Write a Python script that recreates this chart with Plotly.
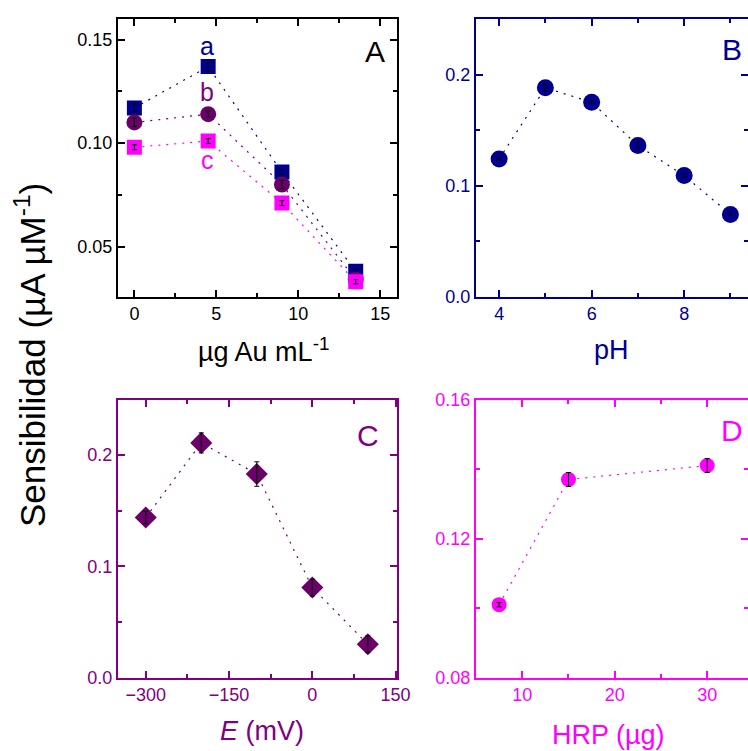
import plotly.graph_objects as go

# ---------------- data ----------------
x_au = [0, 4.5, 9, 13.5]
sens_a = [0.117, 0.137, 0.086, 0.038]
sens_b = [0.110, 0.114, 0.080, 0.034]
sens_c = [0.098, 0.101, 0.071, 0.033]
err_a = [0.002, 0.002, 0.0012, 0.001]
err_b = [0.002, 0.0015, 0.002, 0.001]
err_c = [0.0012, 0.0012, 0.0012, 0.001]

ph = [4, 5, 6, 7, 8, 9]
sens_ph = [0.124, 0.188, 0.175, 0.136, 0.109, 0.074]
err_ph = [0.001, 0.003, 0.001, 0.003, 0.0015, 0.001]

e_mv = [-300, -200, -100, 0, 100]
sens_e = [0.144, 0.211, 0.183, 0.081, 0.030]
err_e = [0.0055, 0.009, 0.011, 0.0075, 0.0075]

hrp = [7.5, 15, 30]
sens_hrp = [0.101, 0.137, 0.141]
err_hrp = [0.0006, 0.002, 0.002]

# ---------------- style ----------------
W, H = 748, 751
FONT = "Liberation Sans, Arial, sans-serif"
BLACK = "#000000"
NAVY = "#000090"
PURPLE = "#800080"
PURPLE_M = "#6B006B"
MAGENTA = "#FF00FF"
DOT = "2px,6px"


def px(x):
    return x / W


def py(y):
    return 1 - y / H


dom_x_left = [px(118), px(396.7)]
dom_x_right = [px(476), 1.0]
dom_y_top = [py(296.6), py(19)]
dom_y_bot = [py(677.7), py(399.5)]


def axis(domain, rng, dtick, mdtick, color, anchor, fmt=None):
    d = dict(
        domain=domain, range=rng, dtick=dtick, tick0=0, automargin=False,
        ticks="inside", ticklen=7, tickwidth=2, tickcolor=color,
        showline=True, linecolor=color, linewidth=2, mirror="ticks",
        showgrid=False, zeroline=False, anchor=anchor,
        tickfont=dict(family=FONT, size=18, color=color),
        minor=dict(ticks="inside", ticklen=4, tickwidth=2, tickcolor=color,
                   dtick=mdtick, tick0=0, showgrid=False),
    )
    if fmt:
        d["tickformat"] = fmt
    return d


fig = go.Figure()


def add_series(x, y, err, color, symbol, size, xa, ya):
    fig.add_trace(go.Scatter(
        x=x, y=y, mode="lines+markers", xaxis=xa, yaxis=ya,
        line=dict(color=color, width=1.2, dash=DOT),
        marker=dict(color=color, symbol=symbol, size=size, line=dict(width=0)),
        showlegend=False, hoverinfo="skip"))
    fig.add_trace(go.Scatter(
        x=x, y=y, mode="markers", xaxis=xa, yaxis=ya,
        marker=dict(size=1, opacity=0),
        error_y=dict(type="data", array=err, color=BLACK, thickness=1, width=2.5),
        showlegend=False, hoverinfo="skip"))


add_series(x_au, sens_a, err_a, NAVY, "square", 15, "x", "y")
add_series(x_au, sens_b, err_b, PURPLE_M, "circle", 16, "x", "y")
add_series(x_au, sens_c, err_c, MAGENTA, "square", 15, "x", "y")
add_series(ph, sens_ph, err_ph, NAVY, "circle", 17, "x2", "y2")
add_series(e_mv, sens_e, err_e, PURPLE_M, "diamond", 17, "x3", "y3")
add_series(hrp, sens_hrp, err_hrp, MAGENTA, "circle", 15, "x4", "y4")

annotations = []


def ann(text, x, y, color, size, **kw):
    d = dict(text=text, x=px(x), y=py(y), xref="paper", yref="paper",
             showarrow=False, xanchor="center", yanchor="middle",
             font=dict(family=FONT, size=size, color=color))
    d.update(kw)
    annotations.append(d)


# panel letters
ann("A", 375.5, 51, BLACK, 30)
ann("B", 732, 50, NAVY, 30)
ann("C", 368, 435, PURPLE, 30)
ann("D", 731.5, 430, MAGENTA, 30)
# series labels
ann("a", 207, 46, NAVY, 25)
ann("b", 207, 92, PURPLE, 25)
ann("c", 207, 160, MAGENTA, 25)
# axis titles
ann("µg Au mL<sup>-1</sup>", 263, 350, BLACK, 27)
ann("pH", 611, 350, NAVY, 27)
ann("<i>E</i> (mV)", 262, 731, PURPLE, 27)
ann("HRP (µg)", 608, 735, MAGENTA, 27)
ann("Sensibilidad (µA µM<sup>-1</sup>)", 30, 355, BLACK, 35, textangle=-90)

fig.update_layout(
    template="none",
    width=W, height=H,
    margin=dict(l=0, r=0, t=0, b=0, autoexpand=False),
    paper_bgcolor="white", plot_bgcolor="white",
    showlegend=False,
    xaxis=axis(dom_x_left, [-1, 16], 5, 2.5, BLACK, "y"),
    yaxis=axis(dom_y_top, [0.0258, 0.16], 0.05, 0.025, BLACK, "x", ".2f"),
    xaxis2=axis(dom_x_right, [3.5, 9.38], 2, 1, NAVY, "y2"),
    yaxis2=axis(dom_y_top, [0, 0.25], 0.1, 0.05, NAVY, "x2", ".1f"),
    xaxis3=axis(dom_x_left, [-350, 152], 150, 75, PURPLE, "y3"),
    yaxis3=axis(dom_y_bot, [0, 0.25], 0.1, 0.05, PURPLE, "x3", ".1f"),
    xaxis4=axis(dom_x_right, [5, 34.41], 10, 5, MAGENTA, "y4"),
    yaxis4=axis(dom_y_bot, [0.08, 0.16], 0.04, 0.02, MAGENTA, "x4", ".2f"),
    annotations=annotations,
)

fig.write_html("out.html")
